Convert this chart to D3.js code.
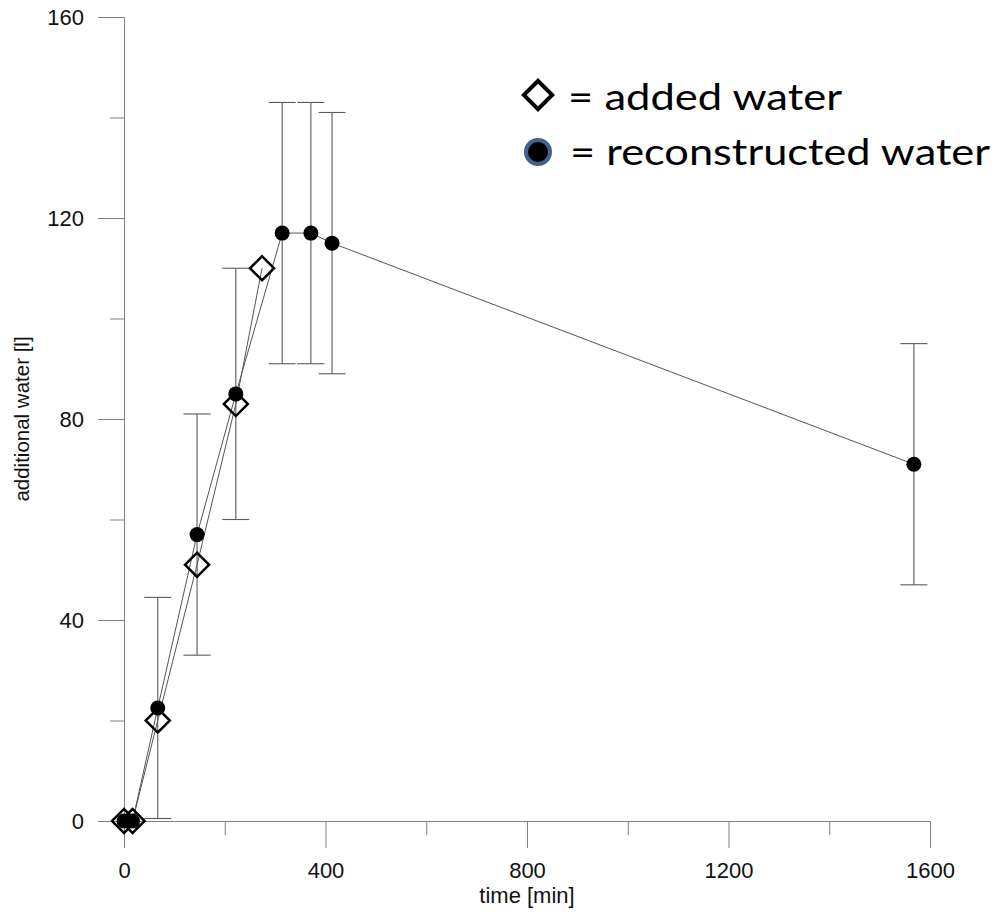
<!DOCTYPE html>
<html>
<head>
<meta charset="utf-8">
<script src="https://cdn.jsdelivr.net/npm/d3@7"></script>
<style>
  html, body { margin: 0; padding: 0; background: #fff; }
  svg { display: block; }
</style>
</head>
<body>
<svg id="chart" width="999" height="914"></svg>
<script>
// ---- data ----
const addedTime  = [0, 17, 67, 145, 222, 274];
const addedWater = [0, 0, 20, 51, 83, 110];

const reconTime  = [0, 17, 67, 145, 222, 314, 371, 413, 1568];
const reconWater = [0, 0, 22.5, 57, 85, 117, 117, 115, 71];
const reconErr   = [0, 0, 22, 24, 25, 26, 26, 26, 24];

const xMajorTicks = [0, 400, 800, 1200, 1600];
const xMinorTicks = [200, 600, 1000, 1400];
const yMajorTicks = [0, 40, 80, 120, 160];
const yMinorTicks = [20, 60, 100, 140];

const legendLabels = ["= added water", "= reconstructed water"];
const xTitle = "time [min]";
const yTitle = "additional water [l]";

// ---- layout ----
const svg = d3.select("#chart");
const x = d3.scaleLinear().domain([0, 1600]).range([124, 930]);
const y = d3.scaleLinear().domain([0, 160]).range([821, 17]);

const axisColor = "#808080";
const tickFont = "'Liberation Sans', Arial, sans-serif";
const fmt = d3.format("d");

function styleAxis(g) {
  g.selectAll("path.domain").attr("stroke", axisColor).attr("stroke-width", 1);
  g.selectAll(".tick line").attr("stroke", axisColor).attr("stroke-width", 1);
  g.selectAll(".tick text").attr("fill", "#111").style("font-family", tickFont).style("font-size", "22px");
}

// y axis minor
svg.append("g").attr("transform", "translate(124,0)")
  .call(d3.axisLeft(y).tickValues(yMinorTicks).tickSize(14).tickSizeOuter(0).tickFormat(""))
  .call(styleAxis);
// y axis major
svg.append("g").attr("transform", "translate(124,0)")
  .call(d3.axisLeft(y).tickValues(yMajorTicks).tickSize(26).tickSizeOuter(0).tickPadding(14).tickFormat(fmt))
  .call(styleAxis);

// x axis minor
svg.append("g").attr("transform", "translate(0,821)")
  .call(d3.axisBottom(x).tickValues(xMinorTicks).tickSize(14).tickSizeOuter(0).tickFormat(""))
  .call(styleAxis);
// x axis major
svg.append("g").attr("transform", "translate(0,821)")
  .call(d3.axisBottom(x).tickValues(xMajorTicks).tickSize(27).tickSizeOuter(0).tickPadding(14).tickFormat(fmt))
  .call(styleAxis);

// axis titles
svg.append("text")
  .attr("x", x(800)).attr("y", 903)
  .attr("text-anchor", "middle")
  .style("font-family", tickFont).style("font-size", "22px").attr("fill", "#111")
  .text(xTitle);

svg.append("text")
  .attr("transform", "translate(29," + y(80) + ") rotate(-90)")
  .attr("text-anchor", "middle")
  .style("font-family", tickFont).style("font-size", "20.5px").attr("fill", "#111")
  .text(yTitle);

// ---- series ----
const added = addedTime.map((t, i) => ({ t, v: addedWater[i] }));
const recon = reconTime.map((t, i) => ({ t, v: reconWater[i], e: reconErr[i] }));

const line = d3.line().x(d => x(d.t)).y(d => y(d.v));

// error bars
const eb = svg.append("g").attr("stroke", "#5a5a5a").attr("stroke-width", 1.1);
recon.filter(d => d.e > 0).forEach(d => {
  eb.append("line").attr("x1", x(d.t)).attr("x2", x(d.t)).attr("y1", y(d.v - d.e)).attr("y2", y(d.v + d.e));
  eb.append("line").attr("x1", x(d.t) - 13.5).attr("x2", x(d.t) + 13.5).attr("y1", y(d.v - d.e)).attr("y2", y(d.v - d.e));
  eb.append("line").attr("x1", x(d.t) - 13.5).attr("x2", x(d.t) + 13.5).attr("y1", y(d.v + d.e)).attr("y2", y(d.v + d.e));
});

// connecting lines
svg.append("path").datum(added).attr("d", line)
  .attr("fill", "none").attr("stroke", "#555").attr("stroke-width", 1);
svg.append("path").datum(recon).attr("d", line)
  .attr("fill", "none").attr("stroke", "#555").attr("stroke-width", 1);

// diamonds
const diamond = d3.symbol().type(d3.symbolSquare).size(17 * 17);
svg.append("g").selectAll("path").data(added).join("path")
  .attr("d", diamond)
  .attr("transform", d => "translate(" + x(d.t) + "," + y(d.v) + ") rotate(45)")
  .attr("fill", "none").attr("stroke", "#000").attr("stroke-width", 2.5);

// circles
svg.append("g").selectAll("circle").data(recon).join("circle")
  .attr("cx", d => x(d.t)).attr("cy", d => y(d.v)).attr("r", 7.5)
  .attr("fill", "#000");

// ---- legend ----
const legFont = "Lato, 'Open Sans', sans-serif";
const leg = svg.append("g");
leg.append("path")
  .attr("d", d3.symbol().type(d3.symbolSquare).size(20 * 20)())
  .attr("transform", "translate(538,95) rotate(45)")
  .attr("fill", "#fff").attr("stroke", "#000").attr("stroke-width", 4);
leg.append("text").attr("x", 568).attr("y", 110)
  .attr("textLength", 274).attr("lengthAdjust", "spacingAndGlyphs")
  .style("font-family", legFont).style("font-size", "37px").attr("fill", "#000")
  .text(legendLabels[0]);
leg.append("circle").attr("cx", 538).attr("cy", 152).attr("r", 12)
  .attr("fill", "#000").attr("stroke", "#41618f").attr("stroke-width", 4);
leg.append("text").attr("x", 570).attr("y", 165)
  .attr("textLength", 420).attr("lengthAdjust", "spacingAndGlyphs")
  .style("font-family", legFont).style("font-size", "37px").attr("fill", "#000")
  .text(legendLabels[1]);
</script>
</body>
</html>
